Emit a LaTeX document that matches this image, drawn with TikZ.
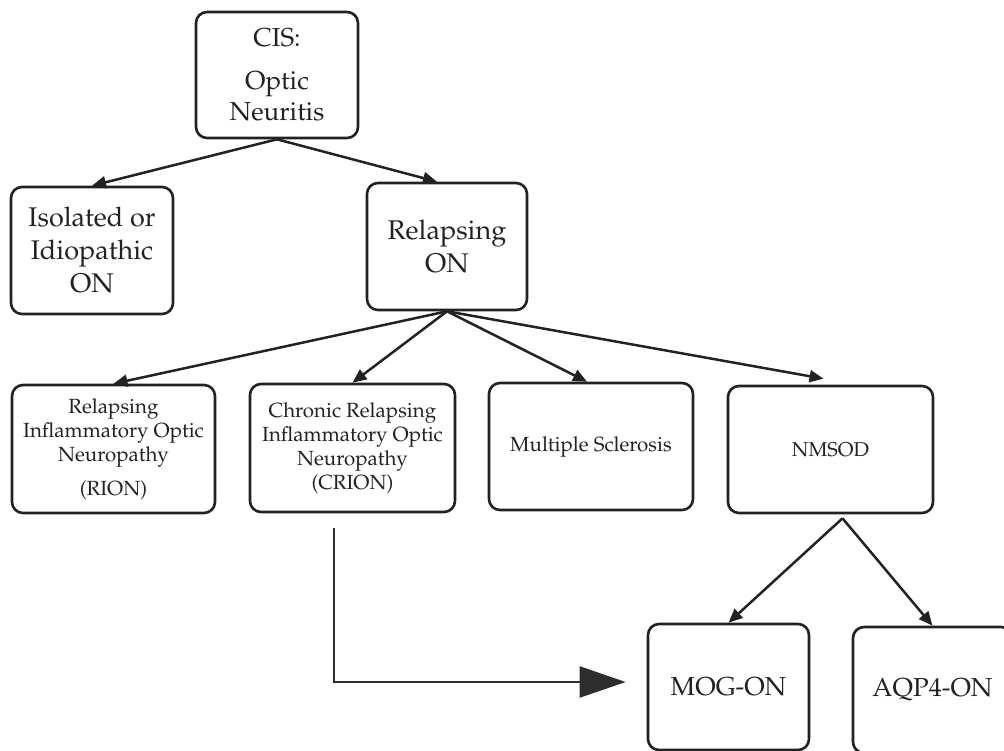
\documentclass[tikz,border=0pt]{standalone}
\usepackage[T1]{fontenc}
\usepackage{mathpazo}
\usetikzlibrary{arrows.meta,calc}
\definecolor{ink}{HTML}{222222}
\tikzset{
  box/.style={draw=ink, line width=2.6pt, rounded corners=11pt, align=center,
    inner sep=0pt, text=ink, fill=white},
  arr/.style={draw=ink, line width=2.5pt, -{Triangle[length=14pt,width=12pt]}},
  bigarr/.style={draw=ink!95, line width=2.2pt, -{Triangle[length=46pt,width=31pt]}},
  big/.style={font=\fontsize{27}{33}\selectfont},
  mid/.style={font=\fontsize{20.5}{24}\selectfont},
}
\begin{document}
\begin{tikzpicture}[x=1pt,y=-1pt]
\useasboundingbox (0,0) rectangle (1004,751);
\node[box, minimum width=162pt, minimum height=126pt, font=\fontsize{26}{31}\selectfont] (cis) at (277,75) {CIS:\\[12pt]Optic\\Neuritis};
\node[box, big, minimum width=162pt, minimum height=127pt] (iso) at (92,250.5) {Isolated or\\Idiopathic\\ON};
\node[box, big, minimum width=160pt, minimum height=127pt] (relon) at (447,246.5) {Relapsing\\ON};
\node[box, mid, minimum width=203pt, minimum height=128pt] (rion) at (113.5,449) {Relapsing\\Inflammatory Optic\\Neuropathy\\[10pt](RION)};
\node[box, mid, minimum width=205pt, minimum height=128pt] (crion) at (352.5,448) {Chronic Relapsing\\Inflammatory Optic\\Neuropathy\\(CRION)};
\node[box, mid, minimum width=204pt, minimum height=127pt] (ms) at (591,446.5) {Multiple Sclerosis};
\node[box, font=\fontsize{20}{24}\selectfont, minimum width=205pt, minimum height=127pt] (nmsod) at (830.5,449.5) {NMSOD};
\node[box, font=\fontsize{26}{30}\selectfont, minimum width=161pt, minimum height=126pt] (mog) at (728.5,687) {MOG-ON};
\node[box, font=\fontsize{26}{30}\selectfont, minimum width=159pt, minimum height=126pt] (aqp) at (932.5,690) {AQP4-ON};

\coordinate (nmstart) at ($(nmsod.south)+(12,4)$);
\coordinate (lstart) at (334,528);

\draw[arr] (cis.south) -- (iso.north);
\draw[arr] (cis.south) -- ($(relon.north)+(-10,0)$);
\draw[arr] (relon.south) -- (rion.north);
\draw[arr] (relon.south) -- (crion.north);
\draw[arr] (relon.south) -- ($(ms.north)+(-4,0)$);
\draw[arr] (relon.south) -- ($(nmsod.north)+(-7,-6)$);
\draw[arr] (nmstart) -- (mog.north);
\draw[arr] (nmstart) -- (aqp.north);
\draw[bigarr] (lstart) |- ($(mog.west)+(-21,-5)$);
\end{tikzpicture}
\end{document}
